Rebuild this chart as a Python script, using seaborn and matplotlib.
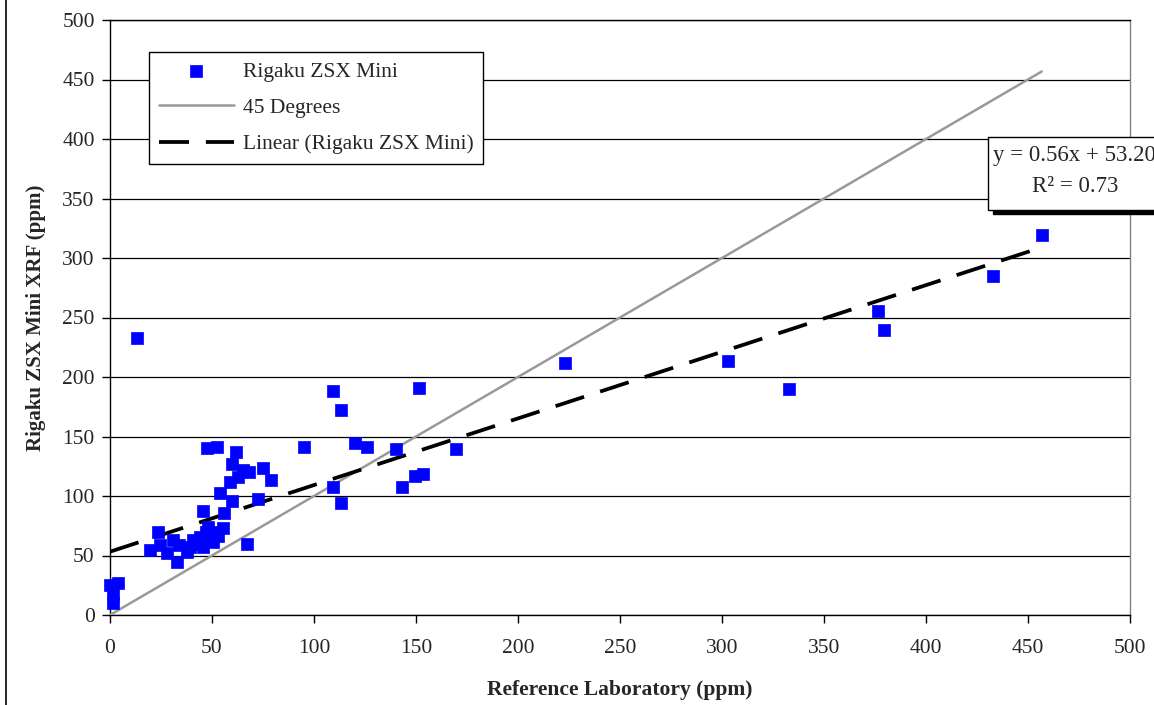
import numpy as np
import pandas as pd
import matplotlib
matplotlib.use("Agg")
import matplotlib.pyplot as plt
import seaborn as sns
from matplotlib.lines import Line2D
from matplotlib.patches import Rectangle

# reference lab vs Rigaku values (ppm)
ref_lab = [0, 3.8, 1.3, 1.6, 13.2, 19.6, 23.7, 24.5, 27.8, 31, 33, 34, 37.6, 39.2,
           40.8, 44.1, 45.7, 45.4, 47.4, 48.2, 49, 50.6, 52.3, 52.3, 53.9, 55.2,
           55.9, 58.8, 59.7, 60, 61.6, 62.9, 65.4, 67.3, 68.1, 72.4, 75.2, 78.9,
           43, 47, 53,
           95.1, 109.5, 109.5, 113.2, 113.2, 120.1, 125.8, 140, 143, 149.5, 151.5,
           153.3, 169.6, 223, 303.1, 332.7, 376.6, 379.2, 432.7, 456.7]
rigaku = [25, 26.6, 18, 9.8, 232.5, 54.6, 69.5, 58.8, 51.8, 63, 44.8, 58.8, 53.2, 57.4,
          63, 65.8, 57.4, 87.6, 140, 74.2, 67.2, 61.6, 70, 141.4, 102.3, 72.8,
          85.5, 112, 126.9, 95.8, 136.7, 115.7, 121.8, 59.7, 120.4, 97.5, 123.8, 113.4,
          60, 70, 66,
          141.4, 188.5, 107.3, 172.3, 93.9, 144.8, 141.4, 139.5, 107.3, 116.8, 190.5,
          118.2, 139.5, 211.5, 213.4, 190.2, 255.5, 239.2, 284.9, 319.3]

slope = 0.56
intercept = 53.20
r2 = 0.73
ticks = np.arange(0, 501, 50)

df = pd.DataFrame({"ref": ref_lab, "xrf": rigaku})

sns.set_style("white")
plt.rcParams["font.family"] = ["Liberation Serif", "DejaVu Serif"]

W, H = 1154, 705
fig = plt.figure(figsize=(W / 100, H / 100), dpi=100)
ax = fig.add_axes([110 / W, 1 - 615 / H, 1020 / W, 595 / H])

def px(x, y):
    return x / W, 1 - y / H

# 45 degree line
xmax = max(ref_lab)
ax.plot([0, xmax], [0, xmax], color="#999999", lw=1.8, label="45 Degrees", zorder=3)

# linear trend line
xt = np.array([0, xmax])
ax.plot(xt, slope * xt + intercept, color="black", lw=2.7, dashes=(8, 4.5),
        label="Linear (Rigaku ZSX Mini)", zorder=4)

sns.scatterplot(data=df, x="ref", y="xrf", ax=ax, marker="s", s=75,
                color="#0000FF", edgecolor="#0000FF", linewidth=0.5,
                label="Rigaku ZSX Mini", zorder=5, clip_on=False)

ax.set_xlim(0, 500)
ax.set_ylim(0, 500)
ax.set_xticks(ticks)
ax.set_yticks(ticks)
ax.grid(axis="y", color="black", lw=0.9)
ax.grid(axis="x", visible=False)
ax.tick_params(axis="both", direction="out", length=6, width=1, color="black",
               labelsize=15.5, left=True, bottom=True)
ax.tick_params(axis="x", pad=11)
ax.tick_params(axis="y", pad=5)
for s in ["left", "bottom", "top"]:
    ax.spines[s].set_color("black")
    ax.spines[s].set_linewidth(1)
ax.spines["right"].set_color("#808080")
ax.spines["right"].set_linewidth(1)

ax.set_xlabel("Reference Laboratory (ppm)", fontsize=15.5, fontweight="bold", labelpad=16)
ax.set_ylabel("Rigaku ZSX Mini XRF (ppm)", fontsize=15, fontweight="bold", labelpad=12)

handles, labels = ax.get_legend_handles_labels()
order = [labels.index("Rigaku ZSX Mini"), labels.index("45 Degrees"),
         labels.index("Linear (Rigaku ZSX Mini)")]
leg = ax.legend([handles[i] for i in order], [labels[i] for i in order],
                loc="upper left", bbox_to_anchor=px(149, 52),
                bbox_transform=fig.transFigure, fontsize=15.5, frameon=True,
                fancybox=False, edgecolor="black", framealpha=1,
                handlelength=3.5, handletextpad=0.4, labelspacing=0.75,
                borderpad=0.45, borderaxespad=0, scatterpoints=1)
leg.get_frame().set_linewidth(1)

# equation box with shadow
x0, y0 = px(993, 214)
x1, y1 = px(1170, 141)
fig.add_artist(Rectangle((x0, y0), x1 - x0, y1 - y0, transform=fig.transFigure,
                         facecolor="black", edgecolor="black", zorder=10))
x0, y0 = px(988, 210)
x1, y1 = px(1166, 137)
fig.add_artist(Rectangle((x0, y0), x1 - x0, y1 - y0, transform=fig.transFigure,
                         facecolor="white", edgecolor="black", lw=1, zorder=11))
fig.text(*px(993, 155), f"y = {slope:.2f}x + {intercept:.2f}", fontsize=16.5,
         ha="left", va="center", zorder=12)
fig.text(*px(1075, 186), f"R\u00b2 = {r2:.2f}", fontsize=16.5,
         ha="center", va="center", zorder=12)

# outer chart border on the left
fig.add_artist(Line2D([6 / W, 6 / W], [0, 1], color="black", lw=1.2))

fig.savefig("out.png", dpi=100)
